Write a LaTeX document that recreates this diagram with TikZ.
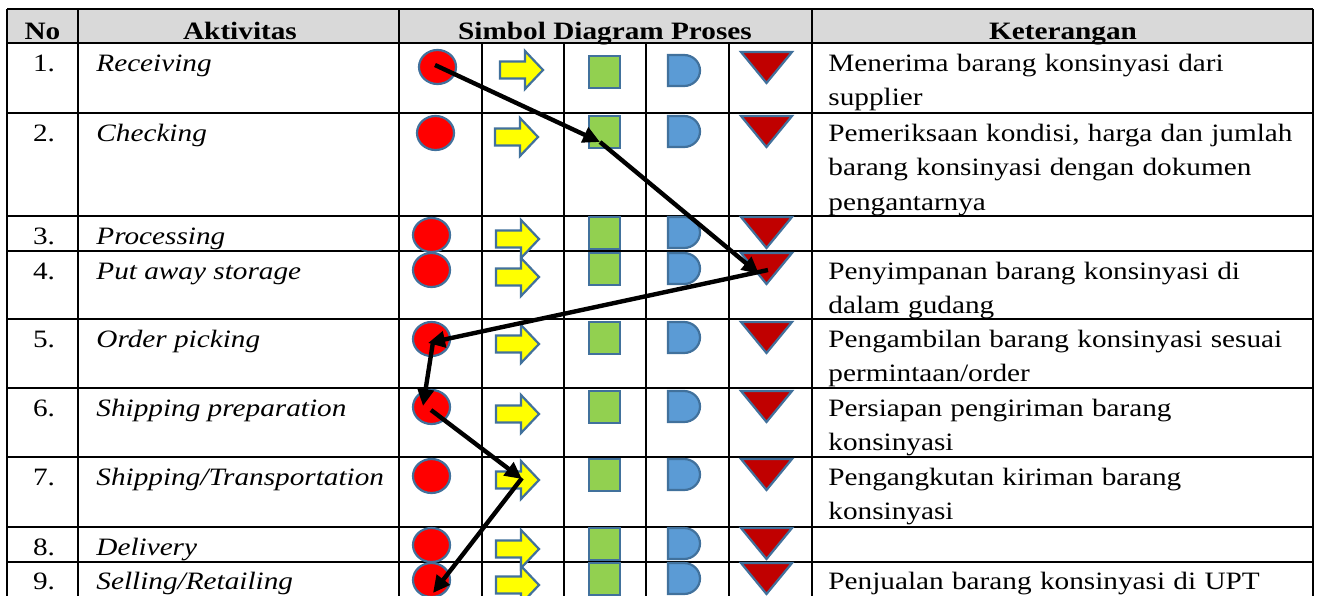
\documentclass[tikz,border=0pt]{standalone}
\usepackage{fontspec}
\setmainfont{Liberation Serif}[FakeStretch=1.17]
\usetikzlibrary{arrows.meta}
\definecolor{hdr}{HTML}{D9D9D9}
\definecolor{cred}{HTML}{FF0000}
\definecolor{cyel}{HTML}{FFFF00}
\definecolor{cgrn}{HTML}{92D050}
\definecolor{cblu}{HTML}{5B9BD5}
\definecolor{cdrd}{HTML}{C00000}
\definecolor{outl}{HTML}{41719C}
% #1 circle top, #2 circle cx, #3 arrow top, #4 arrow x0, #5 square top, #6 D top, #7 triangle top
\newcommand\symrow[7]{%
  \draw[symline,fill=cred] (#2,{#1+17}) ellipse [x radius=18.5, y radius=17];
  \draw[symline,fill=cyel] (#4,{#3+10.5}) -- ({#4+25},{#3+10.5}) -- ({#4+25},#3)
     -- ({#4+43},{#3+19}) -- ({#4+25},{#3+38}) -- ({#4+25},{#3+27.5}) -- (#4,{#3+27.5}) -- cycle;
  \draw[symline,fill=cgrn] (589,#5) rectangle (620,{#5+32});
  \draw[symline,fill=cblu] (668,#6) -- (684,#6) arc[start angle=-90,end angle=90,x radius=16,y radius=15.5]
     -- (668,{#6+31}) -- cycle;
  \draw[symline,fill=cdrd] (741,#7) -- (792,#7) -- (766.5,{#7+31}) -- cycle;
}
\begin{document}
\begin{tikzpicture}[x=0.5pt,y=-0.5pt,
  grid/.style={line width=0.8pt,black},
  symline/.style={draw=outl,line width=1.1pt,line join=miter},
  txt/.style={font=\fontsize{12.5pt}{17.25pt}\selectfont,inner sep=0pt},
  hd/.style={txt,font=\fontsize{12.5pt}{17.25pt}\selectfont\bfseries,anchor=base},
  num/.style={txt,anchor=base},
  act/.style={txt,anchor=base west,font=\fontsize{12.5pt}{17.25pt}\selectfont\itshape},
  ket/.style={txt,anchor=base west,text width=245pt,align=left},
  conn/.style={line width=2.2pt,black,-{Triangle[length=8.5pt,width=8pt]}}]
\useasboundingbox (0,0) rectangle (1317,595);
\clip (0,0) rectangle (1317,595);
\fill[white] (0,0) rectangle (1317,595);
% header
\fill[hdr] (7,9) rectangle (1313,43);
\node[hd] (hno) at (42.5,39) {No};
\node[hd] (hak) at (240,39) {Aktivitas};
\node[hd] (hsim) at (605,39) {Simbol Diagram Proses};
\node[hd] (hket) at (1063,39) {Keterangan};
% grid
\foreach \yy in {9,43,113,216,251,319,388,457,527,562} \draw[grid] (7,\yy) -- (1313,\yy);
\foreach \xx in {7,78,399,812,1313} \draw[grid] (\xx,9) -- (\xx,600);
\foreach \xx in {482,564,646,729} \draw[grid] (\xx,43) -- (\xx,600);
% symbols
\symrow{50}{437.5}{51}{500}{56}{55}{52}
\symrow{116}{435.5}{118}{495}{116}{116}{116}
\symrow{218}{431.5}{220}{496}{217}{217}{217}
\symrow{253}{431.5}{258}{496}{253}{253}{253}
\symrow{322}{431.5}{325}{496}{322}{322}{322}
\symrow{390}{431.5}{395}{496}{391}{391}{391}
\symrow{459}{431.5}{461}{496}{459}{459}{459}
\symrow{528}{431.5}{530}{496}{528}{528}{528}
\symrow{563}{431.5}{566}{496}{563}{563}{563}
% texts
\node[num] (n1) at (44,71) {1.};
\node[act] (a1) at (96,71) {Receiving};
\node[ket] (t1) at (828,71) {Menerima barang konsinyasi dari\\supplier};
\node[num] (n2) at (44,141) {2.};
\node[act] (a2) at (96,141) {Checking};
\node[ket] (t2) at (828,141) {Pemeriksaan kondisi, harga dan jumlah\\barang konsinyasi dengan dokumen\\pengantarnya};
\node[num] (n3) at (44,244) {3.};
\node[act] (a3) at (96,244) {Processing};
\node[num] (n4) at (44,279) {4.};
\node[act] (a4) at (96,279) {Put away storage};
\node[ket] (t4) at (828,279) {Penyimpanan barang konsinyasi di\\dalam gudang};
\node[num] (n5) at (44,347) {5.};
\node[act] (a5) at (96,347) {Order picking};
\node[ket] (t5) at (828,347) {Pengambilan barang konsinyasi sesuai\\permintaan/order};
\node[num] (n6) at (44,416) {6.};
\node[act] (a6) at (96,416) {Shipping preparation};
\node[ket] (t6) at (828,416) {Persiapan pengiriman barang\\konsinyasi};
\node[num] (n7) at (44,485) {7.};
\node[act] (a7) at (96,485) {Shipping/Transportation};
\node[ket] (t7) at (828,485) {Pengangkutan kiriman barang\\konsinyasi};
\node[num] (n8) at (44,555) {8.};
\node[act] (a8) at (96,555) {Delivery};
\node[num] (n9) at (44,589) {9.};
\node[act] (a9) at (96,589) {Selling/Retailing};
\node[ket] (t9) at (828,589) {Penjualan barang konsinyasi di UPT};
% connector points
\coordinate (k1) at (435,65);
\coordinate (k2) at (600,142);
\coordinate (k3) at (759,274);
\coordinate (k4) at (768,270);
\coordinate (k5) at (428,343);
\coordinate (k6) at (433,342);
\coordinate (k7) at (423,406);
\coordinate (k8) at (431,410);
\coordinate (k9) at (522,479);
\coordinate (k10) at (522,478);
\coordinate (k11) at (433,593);
\draw[conn] (k1) -- (k2);
\draw[conn] (k2) -- (k3);
\draw[conn] (k4) -- (k5);
\draw[conn] (k6) -- (k7);
\draw[conn] (k8) -- (k9);
\draw[conn] (k10) -- (k11);
\end{tikzpicture}
\end{document}
